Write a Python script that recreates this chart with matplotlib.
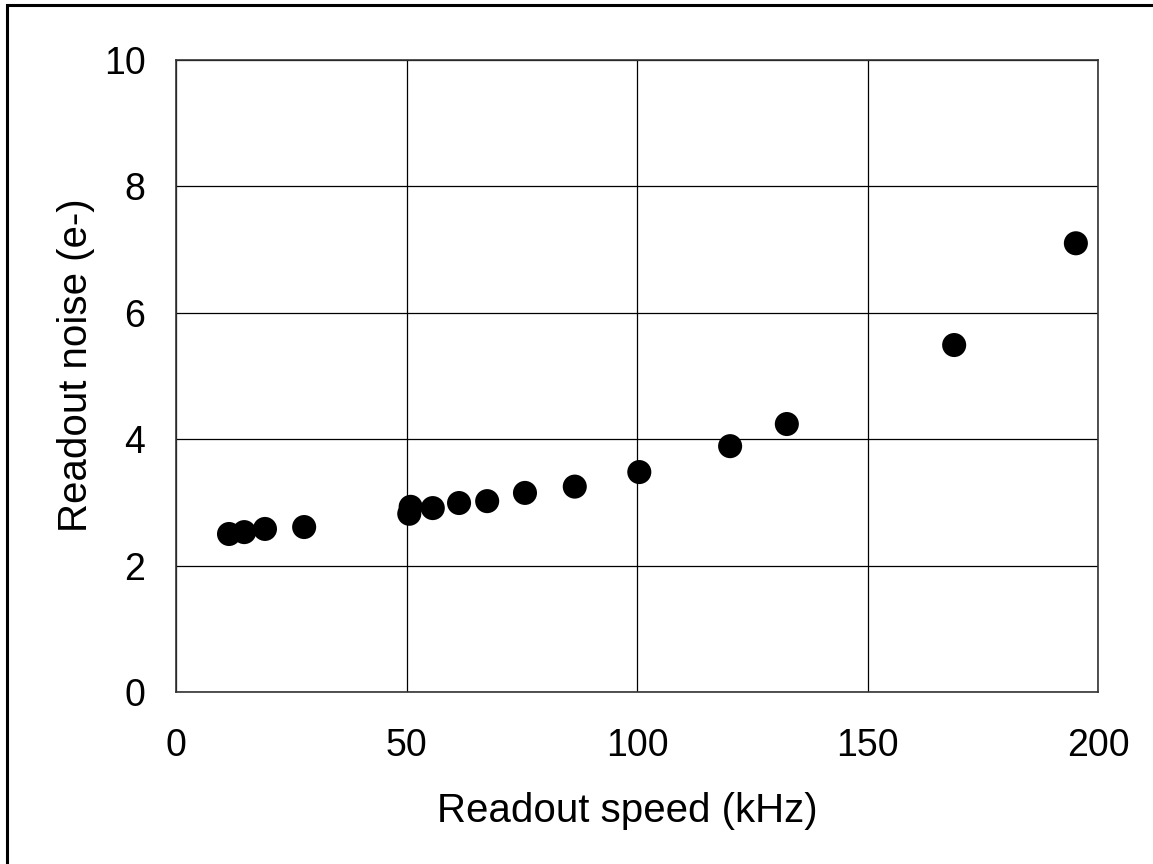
import matplotlib.pyplot as plt
from matplotlib.patches import Rectangle

# readout speed (kHz) vs readout noise (e-)
speed = [11.5, 14.8, 19.3, 27.8, 50.6, 50.9, 55.7, 61.4, 67.5, 75.7, 86.5, 100.5, 120.2, 132.5, 168.8, 195.2]
noise = [2.50, 2.53, 2.58, 2.61, 2.82, 2.93, 2.91, 2.99, 3.02, 3.15, 3.25, 3.48, 3.89, 4.24, 5.49, 7.10]

x_ticks = [0, 50, 100, 150, 200]
y_ticks = [0, 2, 4, 6, 8, 10]

plt.rcParams['font.family'] = ['Liberation Sans', 'DejaVu Sans']

fig = plt.figure(figsize=(11.53, 8.64), dpi=100)
W, H = 1153, 864
ax = fig.add_axes([176 / W, 1 - 692 / H, (1098 - 176) / W, (692 - 60) / H])

ax.scatter(speed, noise, s=300, c='black', edgecolors='none', zorder=5, clip_on=False)

ax.set_xlim(0, 200)
ax.set_ylim(0, 10)
ax.set_xticks(x_ticks)
ax.set_yticks(y_ticks)
ax.grid(True, color='black', linewidth=0.9)
ax.set_axisbelow(True)
for sp in ax.spines.values():
    sp.set_color('#333333')
    sp.set_linewidth(1.2)
ax.tick_params(axis='x', length=0, pad=26, labelsize=27)
ax.tick_params(axis='y', length=0, pad=22, labelsize=27)

ax.set_xlabel("Readout speed (kHz)", fontsize=29)
ax.set_ylabel("Readout noise (e-)", fontsize=29)
ax.xaxis.set_label_coords(0.489, -0.158)
ax.yaxis.set_label_coords(-0.088, 0.517)

# outer frame
fig.patches.append(Rectangle((7 / W, -0.05), 1.2, 1 - 5 / H + 0.05, transform=fig.transFigure,
                             fill=False, edgecolor='black', linewidth=2.2))

fig.savefig("out.png", dpi=100)
